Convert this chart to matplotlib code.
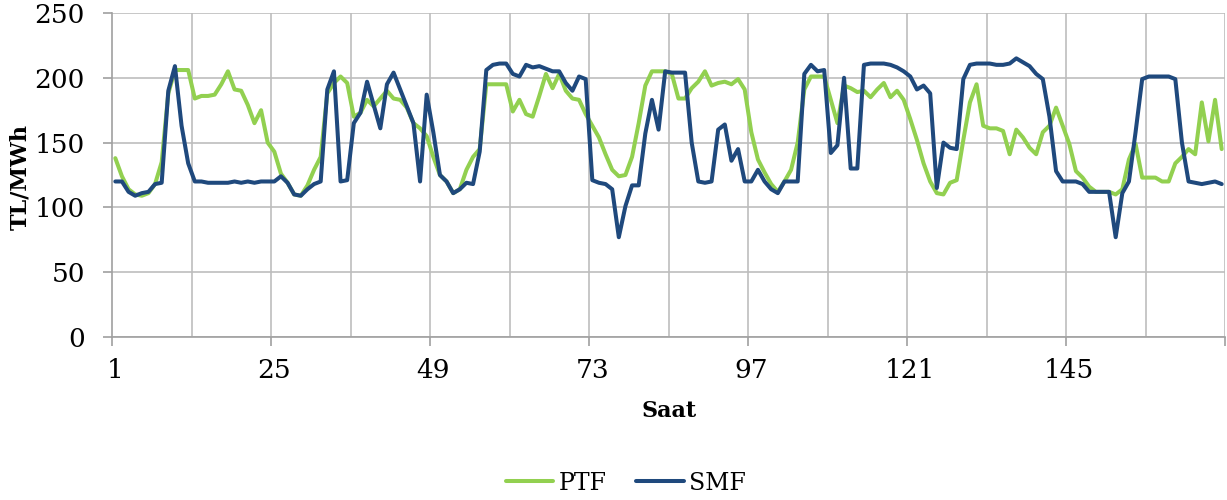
import matplotlib
matplotlib.use("Agg")
import matplotlib.pyplot as plt
import numpy as np

# hourly prices for one week (TL/MWh)
ptf = [138, 124, 114, 110, 109, 111, 118, 135, 188, 206, 206, 206,
       184, 186, 186, 187, 195, 205, 191, 190, 179, 165, 175, 150,
       143, 126, 119, 110, 109, 117, 129, 139, 188, 196, 201, 196,
       170, 173, 183, 178, 184, 190, 184, 183, 177, 165, 161, 155,
       139, 125, 120, 111, 114, 129, 139, 145, 195, 195, 195, 195,
       174, 183, 172, 170, 186, 203, 192, 203, 190, 184, 183, 172,
       163, 154, 141, 129, 124, 125, 139, 165, 194, 205, 205, 205,
       203, 184, 184, 192, 197, 205, 194, 196, 197, 195, 199, 191,
       158, 137, 127, 118, 112, 120, 129, 150, 191, 201, 201, 201,
       183, 165, 194, 192, 189, 190, 185, 191, 196, 185, 190, 183,
       168, 152, 134, 120, 111, 110, 119, 121, 152, 181, 195, 163,
       161, 161, 159, 141, 160, 154, 146, 141, 158, 163, 177, 163,
       149, 128, 123, 116, 112, 112, 112, 110, 114, 137, 149, 123,
       123, 123, 120, 120, 134, 139, 145, 141, 181, 151, 183, 145]

smf = [120, 120, 112, 109, 111, 112, 118, 119, 190, 209, 163, 134,
       120, 120, 119, 119, 119, 119, 120, 119, 120, 119, 120, 120,
       120, 124, 119, 110, 109, 114, 118, 120, 191, 205, 120, 121,
       165, 173, 197, 179, 161, 195, 204, 191, 178, 165, 120, 187,
       158, 125, 120, 111, 114, 119, 118, 143, 206, 210, 211, 211,
       203, 201, 210, 208, 209, 207, 205, 205, 196, 190, 201, 199,
       121, 119, 118, 114, 77, 101, 117, 117, 157, 183, 160, 205,
       204, 204, 204, 150, 120, 119, 120, 160, 164, 136, 145, 120,
       120, 129, 120, 114, 111, 120, 120, 120, 203, 210, 205, 206,
       142, 148, 200, 130, 130, 210, 211, 211, 211, 210, 208, 205,
       201, 191, 194, 188, 115, 150, 146, 145, 199, 210, 211, 211,
       211, 210, 210, 211, 215, 212, 209, 203, 199, 170, 128, 120,
       120, 120, 118, 112, 112, 112, 112, 77, 111, 120, 158, 199,
       201, 201, 201, 201, 199, 150, 120, 119, 118, 119, 120, 118]

hours = np.arange(1, len(ptf) + 1)
tick_hours = [1, 25, 49, 73, 97, 121, 145]
y_ticks = [0, 50, 100, 150, 200, 250]

GREEN = "#92D050"
BLUE = "#1F497D"
GRID = "#BDBDBD"
AXIS = "#A0A0A0"

plt.rcParams["font.family"] = ["DejaVu Serif"]

W, H = 1227, 500
fig = plt.figure(figsize=(W / 100, H / 100), dpi=100)
ax = fig.add_axes([112 / W, 1 - 337 / H, (1225 - 112) / W, (337 - 13) / H])

ax.plot(hours, ptf, color=GREEN, linewidth=2.9, label="PTF",
        solid_joinstyle="round", solid_capstyle="round", zorder=3)
ax.plot(hours, smf, color=BLUE, linewidth=2.9, label="SMF",
        solid_joinstyle="round", solid_capstyle="round", zorder=4)

ax.set_xlim(0.5, len(ptf) + 0.5)
ax.set_ylim(0, 250)

# gridlines
ax.set_yticks(y_ticks)
ax.yaxis.grid(True, color=GRID, linewidth=1.2)
for xb in np.arange(12.5, len(ptf) + 1, 12):
    ax.axvline(xb, color=GRID, linewidth=1.2, zorder=1)
ax.set_axisbelow(True)

# axis ticks and labels
ax.set_xticks(tick_hours)
ax.set_xticklabels([str(t) for t in tick_hours])
ax.set_xticks(np.arange(0.5, len(ptf) + 1, 24), minor=True)
ax.tick_params(axis="x", which="major", length=0, pad=15, labelsize=19)
ax.tick_params(axis="x", which="minor", length=6.5, width=1.2, color=AXIS)
ax.tick_params(axis="y", length=6.5, width=1.2, color=AXIS, pad=13, labelsize=19)

for side in ["top", "right"]:
    ax.spines[side].set_visible(False)
for side in ["left", "bottom"]:
    ax.spines[side].set_color(AXIS)
    ax.spines[side].set_linewidth(1.2)

fig.text(20 / W, 1 - 177 / H, "TL/MWh", rotation=90, ha="center", va="center",
         fontsize=16, fontweight="bold")
fig.text(669 / W, 1 - 411 / H, "Saat", ha="center", va="center",
         fontsize=16, fontweight="bold")

fig.legend(loc="center", bbox_to_anchor=(626 / W, 1 - 483 / H), ncol=2,
           frameon=False, fontsize=17, handlelength=2.0, handletextpad=0.25,
           columnspacing=1.25)

fig.savefig("out.png", dpi=100)
